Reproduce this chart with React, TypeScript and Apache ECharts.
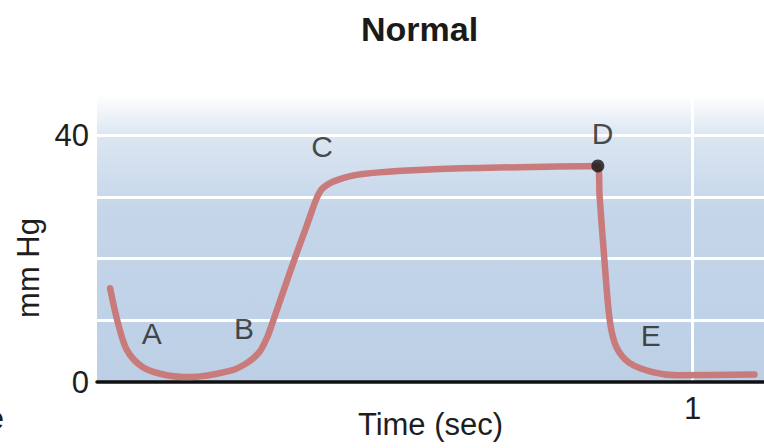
import React, { useEffect, useRef } from "react";
import * as echarts from "echarts";

// Pressure trace (time in seconds, pressure in mm Hg)
const timeSec = [0.022, 0.034, 0.05, 0.077, 0.117, 0.156, 0.223, 0.252, 0.273, 0.286, 0.295, 0.314, 0.332, 0.351, 0.369, 0.379, 0.403, 0.446, 0.576, 0.841, 0.844, 0.852, 0.861, 0.872, 0.894, 0.933, 0.973, 1.104];
const pressure = [15.2, 10.0, 5.2, 2.4, 1.1, 0.8, 1.8, 3.1, 4.9, 7.3, 9.7, 15.0, 20.0, 25.0, 29.8, 31.4, 32.7, 33.7, 34.5, 35.0, 30.0, 19.8, 10.0, 5.7, 3.1, 1.6, 1.1, 1.2];

// Phase letters
const markerNames = ["A", "B", "C", "D", "E"];
const markerTimes = [0.092, 0.247, 0.378, 0.849, 0.93];
const markerPressures = [7.9, 8.7, 38.1, 40.3, 7.6];

// Highlighted point (D)
const dotTime = [0.841];
const dotPressure = [35.0];

const yTickLabels = [0, 40];
const xTickLabels = [1];

const FONT = "'Liberation Sans', Arial, Helvetica, sans-serif";
const TEXT = "#1e1e1e";

export default function App() {
  const ref = useRef<HTMLDivElement>(null);

  useEffect(() => {
    if (!ref.current) return;
    const chart = echarts.init(ref.current, null, { renderer: "svg" });
    const option = {
      animation: false,
      backgroundColor: "#ffffff",
      title: {
        text: "Normal",
        left: 356,
        top: 7,
        textStyle: { fontFamily: FONT, fontSize: 34, fontWeight: "bold", color: "#1a1a1a" },
      },
      grid: {
        left: 97,
        right: 0,
        top: 95,
        bottom: 66,
        outerBoundsMode: "none",
        containLabel: false,
        show: true,
        borderWidth: 0,
        backgroundColor: new echarts.graphic.LinearGradient(0, 0, 0, 1, [
          { offset: 0, color: "#ffffff" },
          { offset: 0.14, color: "#dbe6f1" },
          { offset: 0.4, color: "#c5d6ea" },
          { offset: 1, color: "#bccfe5" },
        ]),
      },
      xAxis: {
        type: "value",
        min: 0,
        max: 1.12,
        interval: 1,
        name: "Time (sec)",
        nameLocation: "middle",
        nameGap: 27,
        nameMoveOverlap: false,
        nameTextStyle: { fontFamily: FONT, fontSize: 31, color: TEXT },
        axisLine: { show: true, lineStyle: { color: "#111111", width: 3.5 } },
        axisTick: { show: false },
        axisLabel: {
          fontFamily: FONT,
          fontSize: 31,
          color: TEXT,
          margin: 11,
          showMinLabel: true,
          showMaxLabel: true,
          formatter: (v: number) => (xTickLabels.includes(Math.round(v * 1000) / 1000) ? String(v) : ""),
        },
        splitLine: {
          show: true,
          showMinLine: false,
          showMaxLine: false,
          lineStyle: { color: "#ffffff", width: 3 },
        },
      },
      yAxis: {
        type: "value",
        min: 0,
        max: 46.5,
        interval: 10,
        axisLine: { show: false },
        axisTick: { show: false },
        axisLabel: {
          fontFamily: FONT,
          fontSize: 31,
          color: TEXT,
          margin: 8,
          formatter: (v: number) => (yTickLabels.includes(v) ? String(v) : ""),
        },
        splitLine: {
          show: true,
          showMinLine: false,
          showMaxLine: false,
          lineStyle: { color: "#ffffff", width: 3 },
        },
      },
      graphic: [
        {
          type: "text",
          x: 28,
          y: 268,
          rotation: Math.PI / 2,
          style: {
            text: "mm Hg",
            fontFamily: FONT,
            fontSize: 31,
            fill: TEXT,
            align: "center",
            verticalAlign: "middle",
          },
        },
        {
          type: "text",
          x: 4,
          y: 418,
          style: {
            text: "e",
            fontFamily: FONT,
            fontSize: 31,
            fill: TEXT,
            align: "right",
            verticalAlign: "middle",
          },
        },
      ],
      series: [
        {
          type: "line",
          data: timeSec.map((t, i) => [t, pressure[i]]),
          smooth: 0.3,
          showSymbol: false,
          lineStyle: { color: "#c97a7a", width: 6.5, cap: "round", join: "round" },
          z: 3,
        },
        {
          type: "scatter",
          data: dotTime.map((t, i) => [t, dotPressure[i]]),
          symbolSize: 13,
          itemStyle: { color: "#151515" },
          z: 4,
        },
        {
          type: "scatter",
          data: markerNames.map((n, i) => ({ name: n, value: [markerTimes[i], markerPressures[i]] })),
          symbolSize: 1,
          itemStyle: { color: "rgba(0,0,0,0)" },
          label: {
            show: true,
            position: "inside",
            formatter: (p: any) => p.name,
            fontFamily: FONT,
            fontSize: 30,
            color: TEXT,
          },
          z: 5,
        },
      ],
    };
    chart.setOption(option as any);
    return () => chart.dispose();
  }, []);

  return (
    <div
      ref={ref}
      style={{ position: "fixed", left: 0, top: 0, width: 764, height: 448 }}
    />
  );
}
